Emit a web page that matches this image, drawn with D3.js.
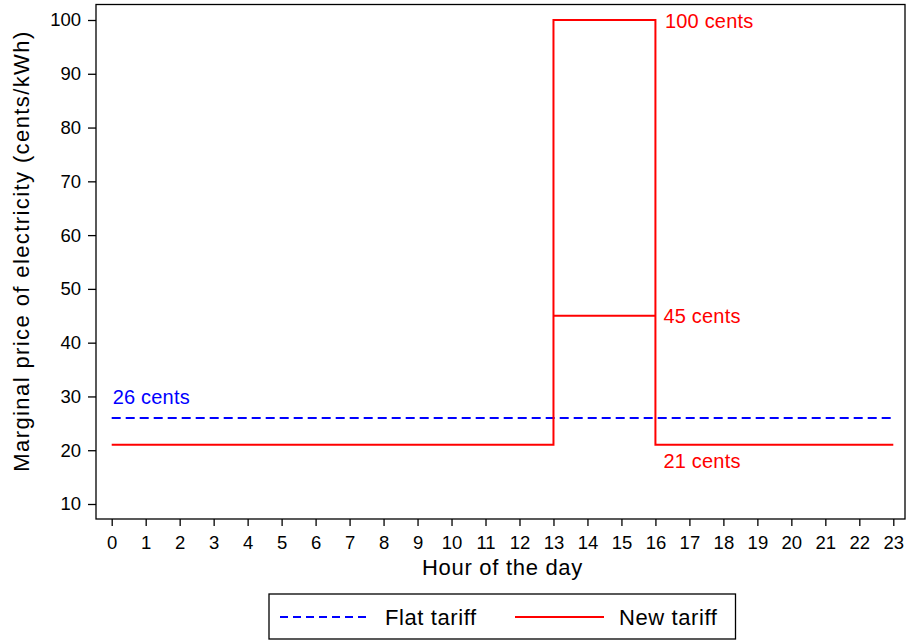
<!DOCTYPE html>
<html><head><meta charset="utf-8">
<script src="https://cdn.jsdelivr.net/npm/d3@7"></script>
<style>
body{margin:0;background:#fff;}
svg text{font-family:"Liberation Sans",Arial,Helvetica,sans-serif;}
</style></head>
<body><svg id="c" width="910" height="641"></svg>
<script>
const hours = d3.range(0, 24);
const yTicks = [10,20,30,40,50,60,70,80,90,100];
const flatX = [0, 23];
const flatY = [26, 26];
const newX = [0, 13, 13, 16, 16, 23];
const newY = [21, 21, 100, 100, 21, 21];
const shoulderX = [13, 16];
const shoulderY = [45, 45];
const labels = [
  {text: "26 cents", x: 0, y: 26, color: "#0000ff", dx: 1, dy: -14},
  {text: "100 cents", x: 16, y: 100, color: "#ff0000", dx: 9.5, dy: 8},
  {text: "45 cents", x: 16, y: 45, color: "#ff0000", dx: 8, dy: 7},
  {text: "21 cents", x: 16, y: 21, color: "#ff0000", dx: 8, dy: 23.5}
];

const svg = d3.select("#c");
const L = 96, R = 905, T = 4.5, B = 519;
const x = d3.scaleLinear().domain([0, 23]).range([111.7, 893.3]);
const y = d3.scaleLinear().domain([10, 100]).range([504, 20]);

svg.append("rect").attr("x", L).attr("y", T).attr("width", R - L).attr("height", B - T)
  .attr("fill", "none").attr("stroke", "#000").attr("stroke-width", 1.3);

const xa = svg.append("g").attr("transform", `translate(0,${B})`)
  .call(d3.axisBottom(x).tickValues(hours).tickFormat(d3.format("d")).tickSize(7).tickPadding(10));
const ya = svg.append("g").attr("transform", `translate(${L},0)`)
  .call(d3.axisLeft(y).tickValues(yTicks).tickSize(8).tickPadding(7));
[xa, ya].forEach(a => {
  a.select(".domain").remove();
  a.selectAll(".tick line").attr("stroke", "#000").attr("stroke-width", 1.3);
  a.selectAll(".tick text").attr("font-size", 18.5).attr("fill", "#000");
});

const line = d3.line().x(d => x(d[0])).y(d => y(d[1]));
svg.append("path").datum(d3.zip(flatX, flatY)).attr("d", line)
  .attr("fill", "none").attr("stroke", "#0000ff").attr("stroke-width", 2).attr("stroke-dasharray", "9,5");
svg.append("path").datum(d3.zip(newX, newY)).attr("d", line)
  .attr("fill", "none").attr("stroke", "#ff0000").attr("stroke-width", 2);
svg.append("path").datum(d3.zip(shoulderX, shoulderY)).attr("d", line)
  .attr("fill", "none").attr("stroke", "#ff0000").attr("stroke-width", 2);

svg.selectAll("text.lab").data(labels).join("text").attr("class", "lab")
  .attr("x", d => x(d.x) + d.dx).attr("y", d => y(d.y) + d.dy)
  .attr("fill", d => d.color).attr("font-size", 20).attr("letter-spacing", 0.2).text(d => d.text);

svg.append("text").attr("x", 502.5).attr("y", 575).attr("text-anchor", "middle")
  .attr("font-size", 22).attr("letter-spacing", 0.7).text("Hour of the day");
svg.append("text").attr("transform", "translate(28.5,251) rotate(-90)").attr("text-anchor", "middle")
  .attr("font-size", 22).attr("letter-spacing", 1.4).text("Marginal price of electricity (cents/kWh)");

// legend
const lg = svg.append("g");
lg.append("rect").attr("x", 269).attr("y", 594).attr("width", 466.5).attr("height", 45)
  .attr("fill", "none").attr("stroke", "#000").attr("stroke-width", 1.3);
lg.append("line").attr("x1", 280).attr("x2", 370).attr("y1", 617).attr("y2", 617)
  .attr("stroke", "#0000ff").attr("stroke-width", 2).attr("stroke-dasharray", "8,5");
lg.append("text").attr("x", 385).attr("y", 625).attr("font-size", 22).attr("letter-spacing", 0.6).text("Flat tariff");
lg.append("line").attr("x1", 515).attr("x2", 604).attr("y1", 617).attr("y2", 617)
  .attr("stroke", "#ff0000").attr("stroke-width", 2);
lg.append("text").attr("x", 619).attr("y", 625).attr("font-size", 22).attr("letter-spacing", 0.6).text("New tariff");
</script></body></html>
